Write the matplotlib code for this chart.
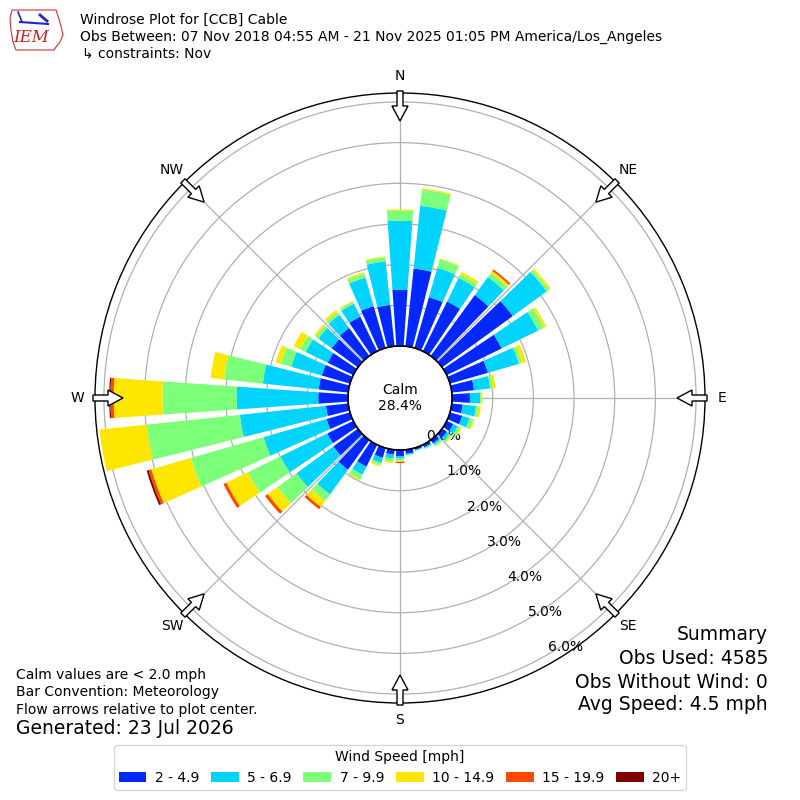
import numpy as np
import matplotlib
matplotlib.use("Agg")
import matplotlib.pyplot as plt
from matplotlib.patches import FancyArrow, Patch, Polygon

# ---------------- data (percent of observations) ----------------
directions = list(range(0, 360, 10))
speed_labels = ["2 - 4.9", "5 - 6.9", "7 - 9.9", "10 - 14.9", "15 - 19.9", "20+"]
speed_colors = ["#0028ff", "#00d4ff", "#7cff79", "#ffe600", "#ff4a00", "#7f0000"]

pct_2_5 = [1.38, 1.92, 1.30, 1.36, 1.85, 2.15, 1.50, 0.97, 0.55, 0.44, 0.27, 0.31,
           0.18, 0.14, 0.10, 0.07, 0.05, 0.10, 0.15, 0.12, 0.25, 0.60, 0.90, 0.75,
           0.71, 0.60, 0.55, 0.73, 0.73, 0.72, 0.70, 0.80, 0.85, 0.95, 1.07, 1.02]
pct_5_7 = [1.70, 1.55, 0.75, 0.64, 0.55, 1.03, 1.00, 0.79, 0.40, 0.25, 0.33, 0.19,
           0.12, 0.08, 0.05, 0.03, 0.02, 0.03, 0.06, 0.10, 0.13, 0.22, 0.75, 1.12,
           1.28, 1.61, 2.13, 2.01, 1.38, 0.78, 0.60, 0.40, 0.40, 0.35, 0.73, 1.08]
pct_7_10 = [0.25, 0.40, 0.22, 0.10, 0.12, 0.07, 0.16, 0.08, 0.06, 0.03, 0.06, 0.09,
            0.07, 0.06, 0.04, 0.02, 0.01, 0.01, 0.05, 0.07, 0.05, 0.13, 0.20, 0.58,
            0.89, 1.86, 2.30, 1.82, 0.96, 0.27, 0.15, 0.08, 0.08, 0.06, 0.10, 0.10]
pct_10_15 = [0.03, 0.03, 0.02, 0.07, 0.06, 0.05, 0.06, 0.10, 0.07, 0.03, 0.06, 0.03,
             0.03, 0.02, 0.01, 0.00, 0.00, 0.00, 0.03, 0.04, 0.04, 0.03, 0.18, 0.29,
             0.59, 1.01, 1.17, 1.20, 0.33, 0.13, 0.18, 0.05, 0.06, 0.02, 0.04, 0.02]
pct_15_20 = [0, 0, 0, 0, 0.05, 0, 0, 0, 0, 0, 0, 0,
             0, 0, 0, 0, 0, 0, 0.03, 0, 0, 0, 0.07, 0.08,
             0.08, 0.07, 0, 0.08, 0, 0, 0, 0, 0, 0, 0, 0]
pct_20_up = [0, 0, 0, 0, 0, 0, 0, 0, 0, 0, 0, 0,
             0, 0, 0, 0, 0, 0, 0, 0, 0, 0, 0, 0,
             0, 0.05, 0, 0.03, 0, 0, 0, 0, 0, 0, 0, 0]
series = [pct_2_5, pct_5_7, pct_7_10, pct_10_15, pct_15_20, pct_20_up]

compass_angles = [0, 45, 90, 135, 180, 225, 270, 315]
compass_labels = ["N", "NE", "E", "SE", "S", "SW", "W", "NW"]
ring_values = [0, 1, 2, 3, 4, 5, 6]
ring_labels = ["0.0%", "1.0%", "2.0%", "3.0%", "4.0%", "5.0%", "6.0%"]
calm_pct = 28.4

# ---------------- figure ----------------
fig = plt.figure(figsize=(8, 8), dpi=100)
ax = fig.add_axes([0.11875, 0.12125, 0.7625, 0.7625], projection="polar")
ax.set_theta_zero_location("N")
ax.set_theta_direction(-1)

theta = np.radians(directions)
width = np.radians(8.0)
bottom = np.zeros(len(directions))
for vals, col, lab in zip(series, speed_colors, speed_labels):
    v = np.array(vals)
    ax.bar(theta, v, width=width, bottom=bottom, color=col, linewidth=0, zorder=3)
    bottom = bottom + v

ax.set_rorigin(-1.28)
ax.set_ylim(0, 6.22)
ax.set_rgrids(ring_values, labels=ring_labels, angle=150, fontsize=10)
ax.set_thetagrids(compass_angles, labels=compass_labels, fontsize=10)
ax.tick_params(axis="x", pad=2)
ax.grid(True, color="#b0b0b0", lw=0.9)
ax.spines["polar"].set_linewidth(1.0)

# calm hole outline
circ_t = np.linspace(0, 2 * np.pi, 400)
ax.plot(circ_t, np.zeros_like(circ_t), color="k", lw=1.2, zorder=6, clip_on=False)
ax.text(0, -1.28, "Calm\n%.1f%%" % calm_pct, ha="center", va="center",
        fontsize=10, zorder=7, transform=ax.transData)

# flow arrows (pointing toward center)
for ang in compass_angles:
    a = np.radians(ang)
    r0 = 0.5 * 307 / 305
    L = 0.5 * 30 / 305
    x0 = 0.5 + r0 * np.sin(a)
    y0 = 0.5 + r0 * np.cos(a)
    dx = -L * np.sin(a)
    dy = -L * np.cos(a)
    arr = FancyArrow(x0, y0, dx, dy, width=0.5 * 6 / 305, head_width=0.5 * 16 / 305,
                     head_length=0.5 * 15 / 305, length_includes_head=True,
                     transform=ax.transAxes, facecolor="white", edgecolor="black",
                     lw=1.0, zorder=10, clip_on=False)
    ax.add_patch(arr)

# ---------------- header ----------------
fig.text(80 / 800, 1 - 20 / 800, "Windrose Plot for [CCB] Cable", fontsize=10, va="center")
fig.text(80 / 800, 1 - 37 / 800,
         "Obs Between: 07 Nov 2018 04:55 AM - 21 Nov 2025 01:05 PM America/Los_Angeles",
         fontsize=10, va="center")
fig.text(82 / 800, 1 - 54 / 800, "\u21b3 constraints: Nov", fontsize=10, va="center")

# simple logo
iowa = np.array([[12, 10], [56, 10], [58, 16], [61, 26], [63, 35], [60, 42],
                 [56, 47], [54, 50], [16, 50], [13, 42], [11, 30], [10, 18], [12, 10]], float)
logo = Polygon(np.column_stack([iowa[:, 0] / 800, 1 - iowa[:, 1] / 800]), closed=True,
               fill=False, edgecolor="#cc3333", lw=0.8, transform=fig.transFigure)
fig.add_artist(logo)
fig.add_artist(plt.Line2D([20 / 800, 48 / 800], [1 - 22 / 800, 1 - 24 / 800],
                          color="#2222cc", lw=1.5, transform=fig.transFigure))
fig.add_artist(plt.Line2D([18 / 800, 22 / 800], [1 - 12 / 800, 1 - 22 / 800],
                          color="#2222cc", lw=1.2, transform=fig.transFigure))
fig.add_artist(plt.Line2D([40 / 800, 47 / 800], [1 - 15 / 800, 1 - 21 / 800],
                          color="#2222cc", lw=2.0, transform=fig.transFigure))
fig.text(31 / 800, 1 - 38 / 800, "IEM", fontsize=12, color="#cc2222", family="DejaVu Serif",
         style="italic", ha="center", va="center")

# ---------------- footer ----------------
fig.text(16 / 800, 1 - 675 / 800, "Calm values are < 2.0 mph", fontsize=10, va="center")
fig.text(16 / 800, 1 - 692 / 800, "Bar Convention: Meteorology", fontsize=10, va="center")
fig.text(16 / 800, 1 - 710 / 800, "Flow arrows relative to plot center.", fontsize=10, va="center")
fig.text(16 / 800, 1 - 729 / 800, "Generated: 23 Jul 2026", fontsize=13.5, va="center")

fig.text(768 / 800, 1 - 635 / 800, "Summary", fontsize=13.5, ha="right", va="center")
fig.text(768 / 800, 1 - 658 / 800, "Obs Used: 4585", fontsize=13.5, ha="right", va="center")
fig.text(768 / 800, 1 - 682 / 800, "Obs Without Wind: 0", fontsize=13.5, ha="right", va="center")
fig.text(768 / 800, 1 - 705 / 800, "Avg Speed: 4.5 mph", fontsize=13.5, ha="right", va="center")

handles = [Patch(facecolor=c, edgecolor="none", label=l) for c, l in zip(speed_colors, speed_labels)]
fig.legend(handles=handles, loc="lower center", bbox_to_anchor=(0.5, 10 / 800), ncol=6,
           title="Wind Speed [mph]", fontsize=10, title_fontsize=10, borderaxespad=0,
           handletextpad=0.6, columnspacing=0.85, handleheight=0.75, borderpad=0.35)

fig.savefig("out.png", dpi=100)
